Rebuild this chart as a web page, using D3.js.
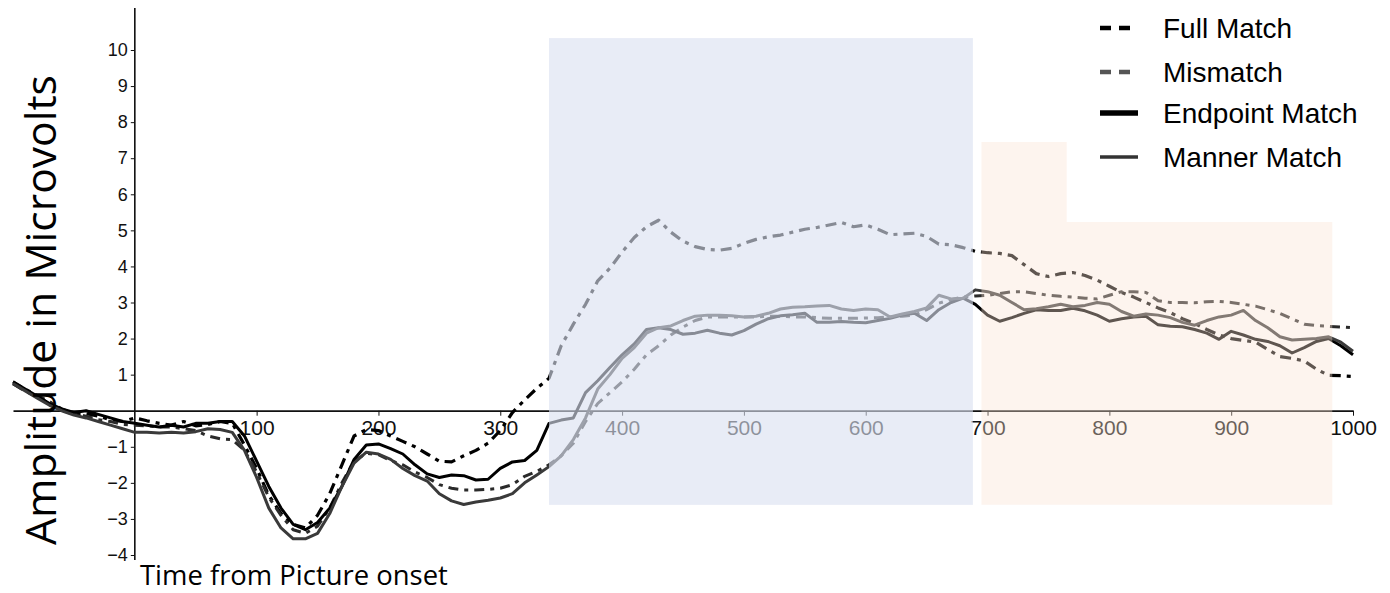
<!DOCTYPE html>
<html>
<head>
<meta charset="utf-8">
<script src="https://cdn.jsdelivr.net/npm/d3@7"></script>
<style>
  body { margin: 0; background: #fff; }
  svg { display: block; }
</style>
</head>
<body>
<div id="container"></div>
<script>
// sample times (ms from picture onset), one sample every 10 ms
const times = d3.range(-100, 1001, 10);

const fullMatch = [
  0.75, 0.55, 0.38, 0.2, 0.02, -0.1, -0.08, -0.15, -0.25, -0.3,
  -0.2, -0.28, -0.35, -0.4, -0.3, -0.42, -0.38, -0.3, -0.35, -0.95,
  -1.6, -2.35, -2.85, -3.15, -3.25, -2.9, -2.3, -1.5, -0.7, -0.52,
  -0.55, -0.7, -0.85, -1.0, -1.2, -1.4, -1.42, -1.25, -1.1, -0.9,
  -0.55, -0.05, 0.3, 0.62, 0.9, 1.8, 2.4, 2.95, 3.6, 3.95,
  4.4, 4.8, 5.1, 5.28, 4.95, 4.7, 4.55, 4.47, 4.45, 4.5,
  4.64, 4.75, 4.82, 4.87, 4.95, 5.03, 5.08, 5.15, 5.22, 5.1,
  5.15, 5.03, 4.88, 4.9, 4.92, 4.83, 4.62, 4.6, 4.52, 4.42,
  4.38, 4.36, 4.3, 4.05, 3.8, 3.72, 3.8, 3.83, 3.75, 3.62,
  3.45, 3.28, 3.15, 3.0, 2.85, 2.72, 2.55, 2.42, 2.25, 2.1,
  2.0, 1.95, 1.9, 1.7, 1.5, 1.45, 1.38, 1.15, 0.98, 0.97, 0.95
];

const mismatch = [
  0.8, 0.6, 0.42, 0.25, 0.05, -0.08, -0.15, -0.25, -0.3, -0.38,
  -0.4, -0.42, -0.45, -0.45, -0.5, -0.55, -0.7, -0.78, -0.8, -1.1,
  -1.7, -2.4, -2.9, -3.3, -3.4, -3.2, -2.7, -2.0, -1.4, -1.18,
  -1.22, -1.38, -1.5, -1.7, -1.85, -2.05, -2.15, -2.2, -2.2, -2.18,
  -2.15, -2.05, -1.82, -1.68, -1.5, -1.25, -0.9, -0.3, 0.2, 0.5,
  0.8, 1.15, 1.55, 1.8, 2.1, 2.32, 2.5, 2.6, 2.6, 2.6,
  2.6, 2.6, 2.62, 2.62, 2.6, 2.6, 2.58, 2.56, 2.56, 2.56,
  2.57, 2.58, 2.6, 2.62, 2.65, 2.8, 2.98, 3.08, 3.15, 3.18,
  3.2, 3.25, 3.3, 3.3, 3.25, 3.2, 3.17, 3.15, 3.12, 3.1,
  3.2, 3.3, 3.3, 3.28, 3.05, 3.0, 3.0, 2.99, 3.02, 3.03,
  3.0, 2.95, 2.9, 2.8, 2.7, 2.55, 2.4, 2.36, 2.34, 2.32, 2.3
];

const endpointMatch = [
  0.8, 0.6, 0.4, 0.2, 0.05, -0.05, 0.0, -0.1, -0.2, -0.3,
  -0.35, -0.4, -0.45, -0.4, -0.45, -0.35, -0.35, -0.3, -0.3, -0.7,
  -1.4, -2.1, -2.7, -3.15, -3.3, -3.1, -2.7, -2.1, -1.35, -0.95,
  -0.92, -1.05, -1.2, -1.5, -1.75, -1.85, -1.78, -1.8, -1.92, -1.9,
  -1.6, -1.42, -1.38, -1.1, -0.35, -0.26, -0.2, 0.5, 0.83, 1.2,
  1.55, 1.85, 2.25, 2.3, 2.25, 2.12, 2.15, 2.23, 2.15, 2.1,
  2.22, 2.4, 2.55, 2.63, 2.66, 2.7, 2.45, 2.45, 2.47, 2.45,
  2.44, 2.5, 2.56, 2.65, 2.7, 2.5, 2.8, 3.0, 3.12, 2.95,
  2.65, 2.48, 2.58, 2.7, 2.8, 2.78, 2.78, 2.84, 2.77, 2.65,
  2.48, 2.55, 2.6, 2.62, 2.38, 2.34, 2.33, 2.25, 2.15, 1.98,
  2.2, 2.1, 1.98, 1.92, 1.8, 1.6, 1.75, 1.92, 2.0, 1.8, 1.55
];

const mannerMatch = [
  0.75, 0.55, 0.35, 0.15, 0.0, -0.12, -0.2, -0.3, -0.4, -0.5,
  -0.6, -0.6, -0.62, -0.6, -0.62, -0.58, -0.5, -0.52, -0.6, -1.1,
  -1.85, -2.7, -3.25, -3.55, -3.55, -3.4, -2.85, -2.1, -1.45, -1.15,
  -1.2, -1.35, -1.6, -1.8, -1.95, -2.3, -2.5, -2.6, -2.53, -2.48,
  -2.42, -2.3, -2.0, -1.78, -1.55, -1.25, -0.8, -0.2, 0.6, 1.0,
  1.45, 1.75, 2.15, 2.3, 2.35, 2.5, 2.62, 2.65, 2.65, 2.63,
  2.6, 2.62, 2.7, 2.82, 2.87, 2.88, 2.9, 2.92, 2.82, 2.78,
  2.82, 2.8, 2.6, 2.68, 2.75, 2.85, 3.2, 3.1, 3.12, 3.35,
  3.3, 3.2, 3.0, 2.8, 2.83, 2.88, 2.95, 2.88, 2.92, 3.0,
  2.95, 2.75, 2.62, 2.68, 2.65, 2.58, 2.45, 2.37, 2.5, 2.6,
  2.65, 2.78, 2.5, 2.3, 2.05, 1.96, 1.98, 2.0, 2.05, 1.9, 1.65
];

const seriesNames = ["Full Match", "Mismatch", "Endpoint Match", "Manner Match"];
const seriesValues = [fullMatch, mismatch, endpointMatch, mannerMatch];

const xTicks = [100, 200, 300, 400, 500, 600, 700, 800, 900, 1000];
const yTicks = [-4, -3, -2, -1, 1, 2, 3, 4, 5, 6, 7, 8, 9, 10];

// shaded analysis windows, in ms and microvolts
const windowA = { t: [340, 688], v: [-2.61, 10.33] };
const windowB = { t: [695, 765, 983], v: [-2.61, 7.45, 5.23] };

const width = 1390, height = 593;

const svg = d3.select("#container").append("svg")
  .attr("width", width)
  .attr("height", height);

svg.append("rect").attr("width", width).attr("height", height).attr("fill", "#fff");

const x = d3.scaleLinear().domain([-100, 1000]).range([13, 1353]);
const y = d3.scaleLinear().domain([-4, 10]).range([555, 50]);

// line styles
const styles = [
  { color: "#000", width: 3.2, dash: "11,6,4,6" },
  { color: "#2a2a2a", width: 3, dash: "10,6,4,6" },
  { color: "#000", width: 3, dash: null },
  { color: "#3a3a3a", width: 3, dash: null }
];

// y axis
const yAxis = d3.axisLeft(y).tickValues(yTicks).tickSize(4).tickPadding(3).tickFormat(d3.format("d"));
const gy = svg.append("g").attr("transform", `translate(${x(0)},0)`).call(yAxis);
gy.select(".domain").remove();
gy.selectAll("text").attr("font-family", "Liberation Sans, Arial, sans-serif").attr("font-size", 18).attr("fill", "#111");
gy.selectAll("line").attr("stroke", "#111");
svg.append("line")
  .attr("x1", x(0)).attr("x2", x(0))
  .attr("y1", 8).attr("y2", 560)
  .attr("stroke", "#111").attr("stroke-width", 1.6);

// x axis at zero
const xAxis = d3.axisBottom(x).tickValues(xTicks).tickSize(5).tickSizeOuter(0).tickPadding(4).tickFormat(d3.format("d"));
const gx = svg.append("g").attr("transform", `translate(0,${y(0)})`).call(xAxis);
gx.select(".domain").attr("stroke", "#111").attr("stroke-width", 1.8);
gx.selectAll("text").attr("font-family", "Liberation Sans, Arial, sans-serif").attr("font-size", 21).attr("fill", "#111");
gx.selectAll("line").attr("stroke", "#111");

// ERP lines
const line = d3.line()
  .x((d, i) => x(times[i]))
  .y(d => y(d));

seriesValues.forEach((vals, k) => {
  const s = styles[k];
  svg.append("path")
    .datum(vals)
    .attr("d", line)
    .attr("fill", "none")
    .attr("stroke", s.color)
    .attr("stroke-width", s.width)
    .attr("stroke-linejoin", "round")
    .attr("stroke-dasharray", s.dash);
});

// translucent windows drawn over the traces
svg.append("rect")
  .attr("x", x(windowA.t[0]))
  .attr("y", y(windowA.v[1]))
  .attr("width", x(windowA.t[1]) - x(windowA.t[0]))
  .attr("height", y(windowA.v[0]) - y(windowA.v[1]))
  .attr("fill", "rgb(218,224,240)")
  .attr("fill-opacity", 0.62);

const bPts = [
  [windowB.t[0], windowB.v[0]], [windowB.t[0], windowB.v[1]],
  [windowB.t[1], windowB.v[1]], [windowB.t[1], windowB.v[2]],
  [windowB.t[2], windowB.v[2]], [windowB.t[2], windowB.v[0]]
];
svg.append("path")
  .attr("d", "M" + bPts.map(p => [x(p[0]), y(p[1])].join(",")).join("L") + "Z")
  .attr("fill", "rgb(250,226,210)")
  .attr("fill-opacity", 0.38);

// axis titles
const titleFont = "Open Sans, Noto Sans, sans-serif";
function fitText(sel, target) {
  const len = sel.node().getComputedTextLength();
  const fs = parseFloat(sel.attr("font-size"));
  sel.attr("font-size", fs * target / len);
}

const yTitle = svg.append("text")
  .attr("transform", `translate(56,${(545 + 75) / 2}) rotate(-90)`)
  .attr("text-anchor", "middle")
  .attr("font-family", titleFont)
  .attr("font-size", 36)
  .attr("fill", "#000")
  .text("Amplitude in Microvolts");
fitText(yTitle, 470);

const xTitle = svg.append("text")
  .attr("x", 140).attr("y", 585)
  .attr("font-family", titleFont)
  .attr("font-size", 26)
  .attr("fill", "#000")
  .text("Time from Picture onset");
fitText(xTitle, 308);

// legend
const legendRows = [28, 72, 113, 157];
const legendStyles = [
  { color: "#000", width: 4.5, dash: "11,8" },
  { color: "#555", width: 4.5, dash: "11,8" },
  { color: "#000", width: 5.5, dash: null },
  { color: "#333", width: 3.5, dash: null }
];
const legend = svg.append("g");
seriesNames.forEach((name, k) => {
  const ly = legendRows[k], s = legendStyles[k];
  legend.append("line")
    .attr("x1", 1100).attr("x2", 1138)
    .attr("y1", ly).attr("y2", ly)
    .attr("stroke", s.color)
    .attr("stroke-width", s.width)
    .attr("stroke-dasharray", s.dash);
  legend.append("text")
    .attr("x", 1163).attr("y", ly)
    .attr("dy", "0.35em")
    .attr("font-family", "Liberation Sans, Arial, sans-serif")
    .attr("font-size", 28)
    .attr("fill", "#000")
    .text(name);
});
</script>
</body>
</html>
